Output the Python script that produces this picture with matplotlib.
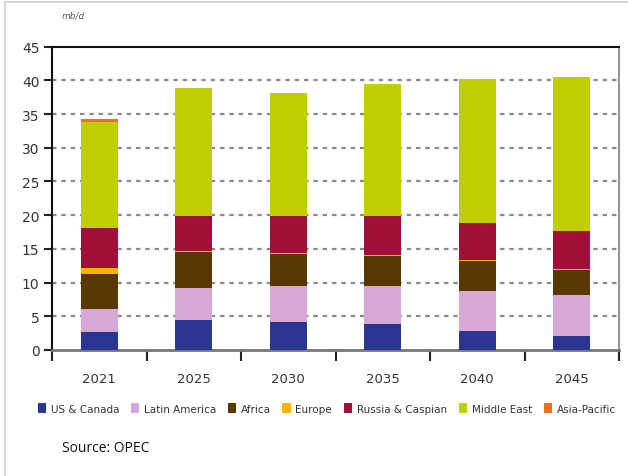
import matplotlib
matplotlib.use("Agg")
import matplotlib.pyplot as plt
from matplotlib.patches import Patch
from matplotlib.lines import Line2D
import numpy as np

years = ['2021', '2025', '2030', '2035', '2040', '2045']
regions = ['US & Canada', 'Latin America', 'Africa', 'Europe',
           'Russia & Caspian', 'Middle East', 'Asia-Pacific']
us_canada = [2.6, 4.5, 4.2, 3.9, 2.8, 2.1]
latin_america = [3.5, 4.7, 5.25, 5.65, 6.0, 6.0]
africa = [5.2, 5.3, 4.85, 4.45, 4.4, 3.8]
europe = [0.8, 0.2, 0.15, 0.15, 0.15, 0.1]
russia_caspian = [6.0, 5.15, 5.4, 5.7, 5.55, 5.6]
middle_east = [15.8, 18.95, 18.35, 19.65, 21.35, 22.85]
asia_pacific = [0.3, 0.0, 0.0, 0.0, 0.0, 0.0]

colors = ['#2b3592', '#d6a8d8', '#583800', '#f4b400',
          '#a01038', '#bfce00', '#e8701a']

series = [us_canada, latin_america, africa, europe,
          russia_caspian, middle_east, asia_pacific]

cond = ['DejaVu Sans']
txt = '#333333'

fig = plt.figure(figsize=(6.28, 4.77), dpi=100)
ax = fig.add_axes([0.0828, 0.2642, 0.9029, 0.6358])

x = np.arange(len(years))
bottom = np.zeros(len(years))
for vals, col, name in zip(series, colors, regions):
    ax.bar(x, vals, width=0.39, bottom=bottom, color=col, label=name,
           linewidth=0, zorder=3)
    bottom += np.array(vals)

ax.set_xlim(-0.5, 5.5)
ax.set_ylim(0, 45)
ax.set_yticks(range(0, 46, 5))
ax.set_yticklabels([str(v) for v in range(0, 46, 5)], family=cond,
                   fontsize=10, color=txt)
ax.set_xticks(np.arange(-0.5, 6, 1.0))
ax.set_xticklabels([])
ax.set_xticks(x, minor=True)
ax.set_xticklabels(years, minor=True, family=cond, fontsize=9.5, color=txt)
ax.tick_params(axis='x', which='minor', length=0, pad=16)
ax.tick_params(axis='x', which='major', direction='out', length=8,
               width=1.5, color='#222222')
ax.tick_params(axis='y', direction='out', length=6, width=1.5,
               color='#222222', pad=3)

for yv in range(5, 45, 5):
    ax.axhline(yv, color='#8a8a8a', linestyle=(0, (2, 2.2)),
               linewidth=1.6, zorder=1)

ax.spines['left'].set_color('#111111')
ax.spines['left'].set_linewidth(1.5)
ax.spines['top'].set_color('#111111')
ax.spines['top'].set_linewidth(1.5)
ax.spines['right'].set_color('#888888')
ax.spines['right'].set_linewidth(1.3)
ax.spines['bottom'].set_color('#777777')
ax.spines['bottom'].set_linewidth(2)

fig.text(0.099, 0.962, 'mb/d', fontsize=6.5, style='italic', color='#555555',
         family=cond)

handles = [Patch(facecolor=c, edgecolor='none') for c in colors]
fig.legend(handles, regions, loc='center left', bbox_to_anchor=(0.045, 0.142),
           ncol=7, frameon=False, handlelength=0.8, handleheight=1.1,
           handletextpad=0.45, columnspacing=1.12,
           prop={'family': cond, 'size': 7.5}, labelcolor=txt)

fig.text(0.099, 0.052, 'Source: OPEC', fontsize=10, color='#111111',
         family=['Open Sans', 'DejaVu Sans'])

# light frame around the picture
fig.add_artist(Line2D([0.008, 0.008], [0, 0.994], color='#d0d0d0',
                      linewidth=1.2, transform=fig.transFigure))
fig.add_artist(Line2D([0.008, 1], [0.994, 0.994], color='#d0d0d0',
                      linewidth=1.2, transform=fig.transFigure))

fig.savefig('out.png', dpi=100)
